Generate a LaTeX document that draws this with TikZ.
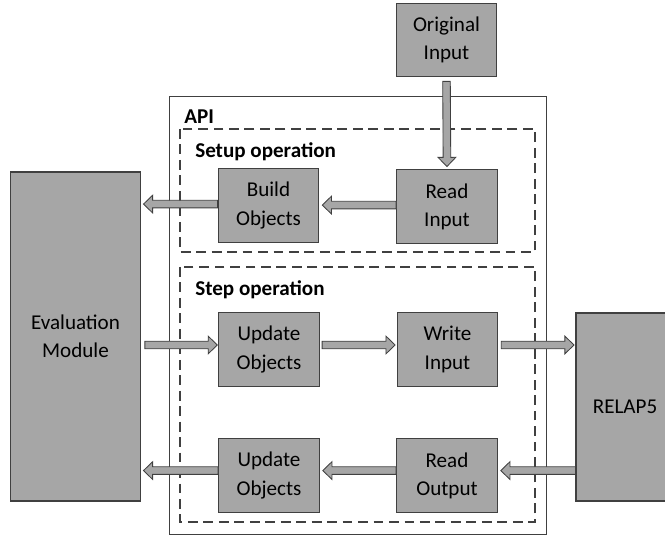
\documentclass[tikz,border=0pt]{standalone}
\usepackage{fontspec}
\setmainfont{Carlito}
\usepackage{tikz}
\usetikzlibrary{calc,positioning}
\definecolor{boxfill}{HTML}{A6A6A6}
\definecolor{edge}{HTML}{404040}
\tikzset{
  module/.style={draw=edge, fill=boxfill, line width=0.8pt, align=center, inner sep=2pt,
                 minimum width=2.52cm, minimum height=1.83cm, font=\fontsize{15}{20}\selectfont},
  apibox/.style={draw=edge, line width=0.6pt},
  opbox/.style={draw=edge, line width=0.9pt, dash pattern=on 7pt off 4pt},
  grouplabel/.style={anchor=base west, inner sep=0pt, font=\bfseries\fontsize{15}{18}\selectfont},
  fatarrow/.style={draw=edge, fill=boxfill, line width=0.6pt, line join=miter,
    to path={let \p1=($(\tikztotarget)-(\tikztostart)$), \n1={atan2(\y1,\x1)},
                 \n2={veclen(\x1,\y1)} in
      {[shift={(\tikztostart)}, rotate=\n1]
       (0,-2.7pt) -- ({\n2-8.5pt},-2.7pt) -- ({\n2-8.5pt},-6.3pt) -- ({\n2-2pt},0)
       -- ({\n2-8.5pt},6.3pt) -- ({\n2-8.5pt},2.7pt) -- (0,2.7pt) -- cycle}}}
}

\begin{document}
\begin{tikzpicture}[x=0.025cm, y=-0.025cm]
  \useasboundingbox (0,0) rectangle (665,536);

  % frames
  \draw[apibox] (169,96) rectangle (546,534);
  \draw[opbox] (180,129) rectangle (535,252);
  \draw[opbox] (180,267) rectangle (535,522);
  \node[grouplabel] (api) at (184,124) {API};
  \node[grouplabel] (setup) at (195,158) {Setup operation};
  \node[grouplabel] (step) at (195,296) {Step operation};

  % blocks
  \node[module] (orig) at (446.5,40) {Original\\Input};
  \node[module] (ri) at (447,206.5) {Read\\Input};
  \node[module] (bo) at (268.5,205.5) {Build\\Objects};
  \node[module, minimum height=1.87cm] (uo1) at (269,349.5) {Update\\Objects};
  \node[module, minimum height=1.87cm] (wi) at (447.5,349.5) {Write\\Input};
  \node[module] (uo2) at (269,475.5) {Update\\Objects};
  \node[module] (ro) at (447,475.5) {Read\\Output};
  \node[module, minimum width=3.23cm, minimum height=8.22cm] (eval) at (75.5,336.5)
    {Evaluation\\Module};
  \node[module, minimum width=2.45cm, minimum height=4.7cm] (relap) at (625,407) {RELAP5};

  % arrows
  \draw[fatarrow] ([yshift=-3pt]orig.south) to (ri.north);
  \draw[fatarrow] ($(ri.west)+(0,1pt)$) to ($(ri.west -| bo.east)+(0,1pt)$);
  \draw[fatarrow] ($(bo.west)+(0,1pt)$) to ($(bo.west -| eval.east)+(0,1pt)$);
  \draw[fatarrow] ($(eval.east |- uo1.west)+(3pt,3.2pt)$) to ($(uo1.west)+(1.5pt,3.2pt)$);
  \draw[fatarrow] ($(uo1.east)+(1.5pt,3.2pt)$) to ($(wi.west)+(1pt,3.2pt)$);
  \draw[fatarrow] ($(wi.east)+(2pt,3.2pt)$) to ($(relap.west |- wi.west)+(1pt,3.2pt)$);
  \draw[fatarrow] ($(relap.west |- ro.east)+(0,3.5pt)$) to ($(ro.east)+(0,3.5pt)$);
  \draw[fatarrow] ($(ro.west)+(0,3.5pt)$) to ($(uo2.east)+(0,3.5pt)$);
  \draw[fatarrow] ($(uo2.west)+(0,3.5pt)$) to ($(eval.east |- uo2.west)+(0,3.5pt)$);
\end{tikzpicture}
\end{document}
